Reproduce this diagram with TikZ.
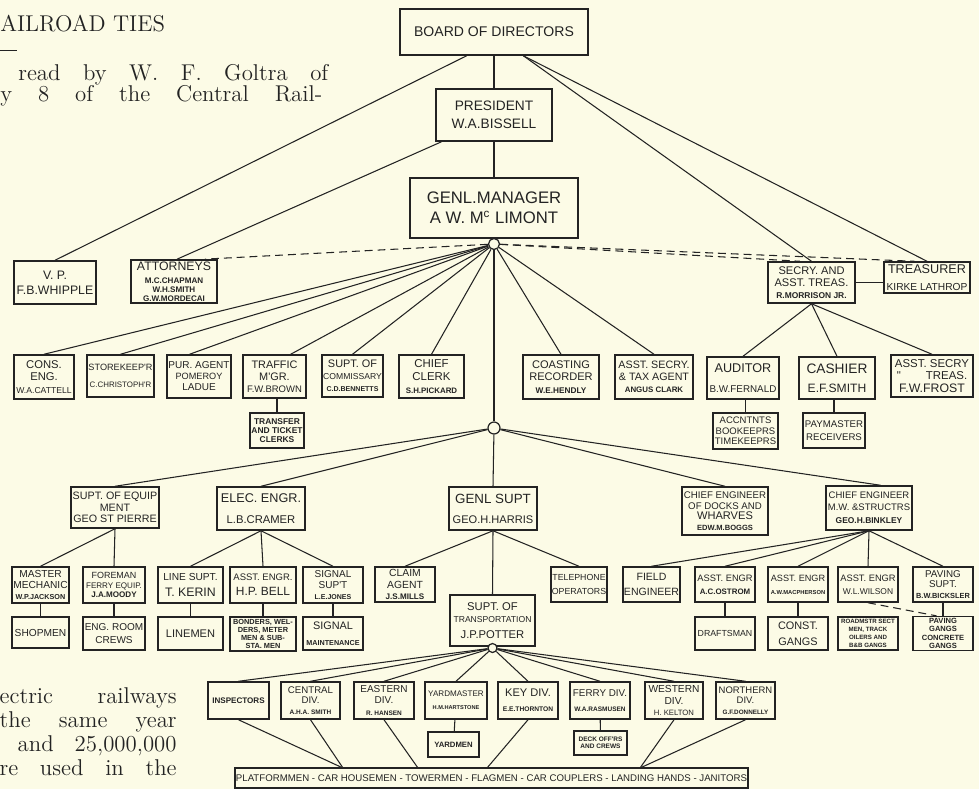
\documentclass[tikz,border=0pt]{standalone}
\usepackage{fontspec}
\newfontfamily\chart{Liberation Sans}
\usetikzlibrary{calc}
\definecolor{paper}{RGB}{252,251,230}
\definecolor{ink}{RGB}{35,35,35}
\newcommand\fs[1]{\fontsize{#1}{\dimexpr#1pt*11/10\relax}\selectfont}
% box from x1 to x2, y1 to y2 (page pixels)
\newcommand\orgbox[7][]{\node[box,#1,minimum width={(#4-#3)*0.02cm},minimum height={(#6-#5)*0.02cm}] (#2) at ({(#3+#4)/2},{(#5+#6)/2}) {#7};}
\tikzset{
  box/.style={draw=ink, fill=paper, line width=0.85pt, inner xsep=0.5pt, inner ysep=1pt, align=center, text=ink, font=\chart\fs{6}},
  hub/.style={circle, draw=ink, fill=paper, line width=0.7pt, inner sep=0pt},
  link/.style={draw=ink, line width=0.6pt},
  dashlink/.style={link, dash pattern=on 4.5pt off 2.8pt},
  txt/.style={inner sep=0pt, text=ink, font=\fs{13}}
}
\begin{document}
\begin{tikzpicture}[x=0.02cm, y=-0.02cm]
\fill[paper] (0,0) rectangle (979,789);
\useasboundingbox (0,0) rectangle (979,789);

% page text round the chart
\node[txt, anchor=base west] (title) at (0,31) {AILROAD TIES};
\draw[ink, line width=0.5pt] (0,50) -- (17,50);
\node[txt, anchor=base west] (l1) at (18,80) {\makebox[6.2cm][s]{read by W. F. Goltra of}};
\node[txt, anchor=base west] (l2) at (0,101) {\makebox[6.44cm][s]{y 8 of the Central Rail-}};
\node[txt, anchor=base east] (r1) at (177,703) {\makebox[3.54cm][s]{ectric railways}};
\node[txt, anchor=base east] (r2) at (177,727) {\makebox[3.54cm][s]{the same year}};
\node[txt, anchor=base east] (r3) at (177,751) {\makebox[3.18cm][s]{and 25,000,000}};
\node[txt, anchor=base east] (r4) at (177,775) {\makebox[3.54cm][s]{re used in the}};

% head
\orgbox[font=\chart\fs{8}]{board}{400}{588}{9}{55}{BOARD OF DIRECTORS}
\orgbox[font=\chart\fs{7.8}]{pres}{436}{552}{89}{141}{PRESIDENT\\[1.5pt]W.A.BISSELL}
\orgbox[font=\chart\fs{9.5}]{gm}{410}{578}{178}{238}{GENL.MANAGER\\[1pt]A W. M\textsuperscript{c} LIMONT}
\node[hub, minimum size=0.22cm] (gmc) at (494,244) {};

\orgbox[font=\chart\fs{7}]{vp}{14}{96}{261}{304}{V. P.\\[1pt]F.B.WHIPPLE}
\orgbox[font=\chart\bfseries\fs{4.6}]{att}{131}{217}{260}{303}{{\mdseries\fs{7}ATTORNEYS}\\[2.5pt]M.C.CHAPMAN\\W.H.SMITH\\G.W.MORDECAI}
\orgbox[font=\chart\fs{6.3}]{secry}{768}{855}{262}{303}{SECRY. AND\\ASST. TREAS.\\{\bfseries\fs{4.8}R.MORRISON JR.}}
\orgbox[font=\chart\fs{7.2}]{treas}{884}{970}{262}{293}{TREASURER\\[2pt]{\fs{5.8}KIRKE LATHROP}}

% under the general manager
\orgbox[font=\chart\fs{6.4}]{cons}{14}{74}{355}{399}{CONS.\\ENG.\\{\fs{4.9}W.A.CATTELL}}
\orgbox[font=\chart\fs{5.2}]{store}{87}{154}{355}{397}{STOREKEEP'R\\[4pt]{\fs{4.5}C.CHRISTOPH'R}}
\orgbox[font=\chart\fs{5.7}]{pur}{167}{231}{355}{398}{PUR. AGENT\\{\fs{5.2}POMEROY}\\LADUE}
\orgbox[font=\chart\fs{6.2}]{traffic}{243}{306}{355}{398}{TRAFFIC\\M'GR.\\{\fs{5.4}F.W.BROWN}}
\orgbox[font=\chart\bfseries\fs{4.8}]{transfer}{250}{304}{413}{448}{TRANSFER\\AND TICKET\\CLERKS}
\orgbox[font=\chart\fs{6.2}]{comm}{322}{383}{355}{397}{SUPT. OF\\{\fs{4.9}COMMISSARY}\\{\bfseries\fs{4}C.D.BENNETTS}}
\orgbox[font=\chart\fs{6.5}]{clerk}{399}{464}{355}{398}{CHIEF\\CLERK\\{\bfseries\fs{4.5}S.H.PICKARD}}
\orgbox[font=\chart\fs{6.3}]{coast}{523}{599}{355}{399}{COASTING\\RECORDER\\{\bfseries\fs{4.7}W.E.HENDLY}}
\orgbox[font=\chart\fs{6.1}]{asstax}{615}{693}{355}{399}{ASST. SECRY.\\\& TAX AGENT\\{\bfseries\fs{4.5}ANGUS CLARK}}
\orgbox[font=\chart\fs{7.2}]{aud}{707}{779}{357}{399}{AUDITOR\\[3pt]{\fs{5.6}B.W.FERNALD}}
\orgbox[font=\chart\fs{5.4}]{acct}{713}{778}{413}{449}{ACCNTNTS\\BOOKEEPRS\\TIMEKEEPRS}
\orgbox[font=\chart\fs{7.8}]{cash}{799}{875}{357}{399}{CASHIER\\[2pt]{\fs{6.9}E.F.SMITH}}
\orgbox[font=\chart\fs{5.5}]{paym}{803}{865}{413}{448}{PAYMASTER\\[1.5pt]RECEIVERS}
\orgbox[font=\chart\fs{6.5}]{astr}{891}{973}{355}{397}{ASST. SECRY\\"\hspace{2.2em}TREAS.\\{\fs{7}F.W.FROST}}
\node[hub, minimum size=0.24cm] (mid) at (494,428) {};

% departments
\orgbox[font=\chart\fs{6.1}]{equip}{71}{159}{487}{528}{SUPT. OF EQUIP\\MENT\\GEO ST PIERRE}
\orgbox[font=\chart\fs{7.2}]{elec}{217}{305}{487}{530}{ELEC. ENGR.\\[4pt]{\fs{6.4}L.B.CRAMER}}
\orgbox[font=\chart\fs{7.6}]{gs}{449}{537}{487}{530}{GENL SUPT\\[3pt]{\fs{6.3}GEO.H.HARRIS}}
\orgbox[font=\chart\fs{5.5}]{docks}{682}{768}{487}{535}{CHIEF ENGINEER\\OF DOCKS AND\\{\fs{6.3}WHARVES}\\{\bfseries\fs{4.3}EDW.M.BOGGS}}
\orgbox[font=\chart\fs{5.4}]{mw}{826}{912}{486}{530}{CHIEF ENGINEER\\[1pt]M.W. \&STRUCTRS\\[1.5pt]{\bfseries\fs{4.8}GEO.H.BINKLEY}}

\orgbox[font=\chart\fs{5.8}]{mech}{12}{69}{567}{603}{MASTER\\MECHANIC\\{\bfseries\fs{4.1}W.P.JACKSON}}
\orgbox[font=\chart\fs{5.8}]{shop}{12}{69}{617}{648}{SHOPMEN}
\orgbox[font=\chart\fs{5.1}]{fore}{83}{145}{567}{603}{FOREMAN\\{\fs{4.6}FERRY EQUIP.}\\{\bfseries\fs{4.6}J.A.MOODY}}
\orgbox[font=\chart\fs{5.7}]{eng}{83}{145}{617}{650}{ENG. ROOM\\[1.5pt]CREWS}
\orgbox[font=\chart\fs{7}]{linesupt}{158}{223}{567}{603}{{\fs{5.8}LINE SUPT.}\\[1pt]T. KERIN}
\orgbox[font=\chart\fs{6.3}]{linemen}{158}{223}{617}{650}{LINEMEN}
\orgbox[font=\chart\fs{6.8}]{abell}{230}{296}{567}{603}{{\fs{5.4}ASST. ENGR.}\\[1pt]H.P. BELL}
\orgbox[font=\chart\bfseries\fs{4.2}]{bond}{230}{296}{617}{651}{BONDERS, WEL-\\DERS, METER\\MEN \& SUB-\\STA. MEN}
\orgbox[font=\chart\fs{5.7}]{sig}{303}{363}{567}{603}{SIGNAL\\SUP'T\\{\bfseries\fs{4}L.E.JONES}}
\orgbox[font=\chart\fs{6.2}]{sigm}{303}{363}{617}{650}{SIGNAL\\[2pt]{\bfseries\fs{4.1}MAINTENANCE}}
\orgbox[font=\chart\fs{5.9}]{claim}{375}{435}{567}{602}{CLAIM\\AGENT\\{\bfseries\fs{4.6}J.S.MILLS}}
\orgbox[font=\chart\fs{6.4}]{trans}{450}{535}{595}{646}{SUPT. OF\\{\fs{4.9}TRANSPORTATION}\\[2pt]J.P.POTTER}
\node[hub, minimum size=0.18cm] (tc) at (492.5,648) {};
\orgbox[font=\chart\fs{5}]{tel}{551}{607}{567}{602}{TELEPHONE\\[2pt]OPERATORS}
\orgbox[font=\chart\fs{6}]{field}{623}{680}{567}{602}{FIELD\\[2pt]ENGINEER}
\orgbox[font=\chart\fs{5.3}]{ostrom}{695}{755}{567}{602}{ASST. ENGR\\[1.5pt]{\bfseries\fs{4.5}A.C.OSTROM}}
\orgbox[font=\chart\fs{5}]{draft}{695}{755}{617}{650}{DRAFTSMAN}
\orgbox[font=\chart\fs{5.2}]{macph}{768}{828}{567}{602}{ASST. ENGR\\[1.5pt]{\bfseries\fs{3.3}A.W.MACPHERSON}}
\orgbox[font=\chart\fs{6.2}]{const}{768}{828}{617}{650}{CONST.\\[2pt]GANGS}
\orgbox[font=\chart\fs{5.3}]{wilson}{838}{898}{567}{602}{ASST. ENGR\\[1.5pt]{\fs{4.8}W.L.WILSON}}
\orgbox[font=\chart\bfseries\fs{3.5}]{road}{838}{898}{617}{650}{ROADMSTR SECT\\[0.8pt]MEN, TRACK\\[0.8pt]OILERS AND\\[0.8pt]B\&B GANGS}
\orgbox[font=\chart\fs{5.6}]{paving}{913}{973}{567}{602}{PAVING\\SUPT.\\{\bfseries\fs{4.2}B.W.BICKSLER}}
\orgbox[font=\chart\bfseries\fs{4.3}]{pgangs}{913}{973}{617}{650}{PAVING\\GANGS\\CONCRETE\\GANGS}

% divisions
\orgbox[font=\chart\bfseries\fs{4.6}]{insp}{208}{269}{682}{719}{INSPECTORS}
\orgbox[font=\chart\fs{5.5}]{central}{281}{340}{682}{719}{CENTRAL\\DIV.\\{\bfseries\fs{3.7}A.H.A. SMITH}}
\orgbox[font=\chart\fs{5.7}]{eastern}{354}{414}{682}{719}{EASTERN\\DIV.\\{\bfseries\fs{3.7}R. HANSEN}}
\orgbox[font=\chart\fs{4.6}]{yard}{425}{487}{682}{719}{YARDMASTER\\[2.5pt]{\bfseries\fs{3.2}H.M.HARTSTONE}}
\orgbox[font=\chart\bfseries\fs{4.4}]{yardmen}{428}{479}{732}{757}{YARDMEN}
\orgbox[font=\chart\fs{6.3}]{key}{498}{558}{682}{719}{KEY DIV.\\[1.5pt]{\bfseries\fs{3.8}E.E.THORNTON}}
\orgbox[font=\chart\fs{5.6}]{ferry}{570}{630}{682}{719}{FERRY DIV.\\[2pt]{\bfseries\fs{3.7}W.A.RASMUSEN}}
\orgbox[font=\chart\bfseries\fs{3.7}]{deck}{574}{627}{731}{755}{DECK OFF'RS\\AND CREWS}
\orgbox[font=\chart\fs{5.8}]{western}{645}{703}{682}{719}{WESTERN\\DIV.\\{\fs{4.4}H. KELTON}}
\orgbox[font=\chart\fs{5.4}]{northern}{716}{775}{682}{719}{NORTHERN\\DIV.\\{\bfseries\fs{3.6}G.F.DONNELLY}}
\orgbox[font=\chart\fs{5.5}]{platf}{236}{747}{768}{788}{PLATFORMMEN - CAR HOUSEMEN - TOWERMEN - FLAGMEN - CAR COUPLERS - LANDING HANDS - JANITORS}
\coordinate (p1) at (343,768);
\coordinate (p2) at (418,768);
\coordinate (p3) at (487,768);
\coordinate (p4) at (640,768);

% lines
\draw[link] (board) -- (pres);
\draw[link] (pres) -- (gm);
\draw[link] (board.221) -- (vp.north);
\draw[link] (pres.207) -- (att.82);
\draw[link] (board.321) -- (secry.north);
\draw[link] (board.321) -- (treas.north);
\draw[link] (secry.east) -- (secry.east -| treas.west);
\draw[dashlink] (gmc) -- (att.36);
\draw[dashlink] (gmc) -- (secry.119);
\draw[dashlink] (gmc) -- (treas.128);

\foreach \t/\a in {cons/north,store/north,pur/113,traffic/54,comm/north,clerk/north,coast/north,asstax/north}
  \draw[link] (gmc) -- (\t.\a);
\foreach \t in {aud,cash,astr}
  \draw[link] (secry.south) -- (\t.north);
\draw[link] (transfer.north) -- (transfer.north |- traffic.south);
\draw[link] (acct.north) -- (acct.north |- aud.south);
\draw[link] (paym.north) -- (paym.north |- cash.south);
\draw[link] (gmc) -- (mid);

\foreach \t/\a in {equip/north,elec/north,gs/north,docks/north,mw/63}
  \draw[link] (mid) -- (\t.\a);
\draw[link] (equip.south) -- (mech.north);
\draw[link] (equip.south) -- (fore.north);
\foreach \t in {linesupt,abell,sig}
  \draw[link] (elec.south) -- (\t.north);
\foreach \t in {claim,trans,tel}
  \draw[link] (gs.south) -- (\t.north);
\foreach \t in {field,ostrom,macph,wilson,paving}
  \draw[link] (mw.south) -- (\t.north);
\foreach \a/\b in {mech/shop,fore/eng,linesupt/linemen,abell/bond,sig/sigm,ostrom/draft,macph/const,paving/pgangs,yard/yardmen,ferry/deck}
  \draw[link] (\a) -- (\b);
\draw[dashlink] (wilson.south) -- (pgangs.110);

\foreach \t in {insp,central,eastern,yard,key,ferry,western,northern}
  \draw[link] (tc) -- (\t.north);
\draw[link] (insp.south) -- (p1);
\draw[link] (central.south) -- (p1);
\draw[link] (eastern.south) -- (p2);
\draw[link] (key.south) -- (p3);
\draw[link] (western.south) -- (p4);
\draw[link] (northern.south) -- (p4);
\end{tikzpicture}
\end{document}
